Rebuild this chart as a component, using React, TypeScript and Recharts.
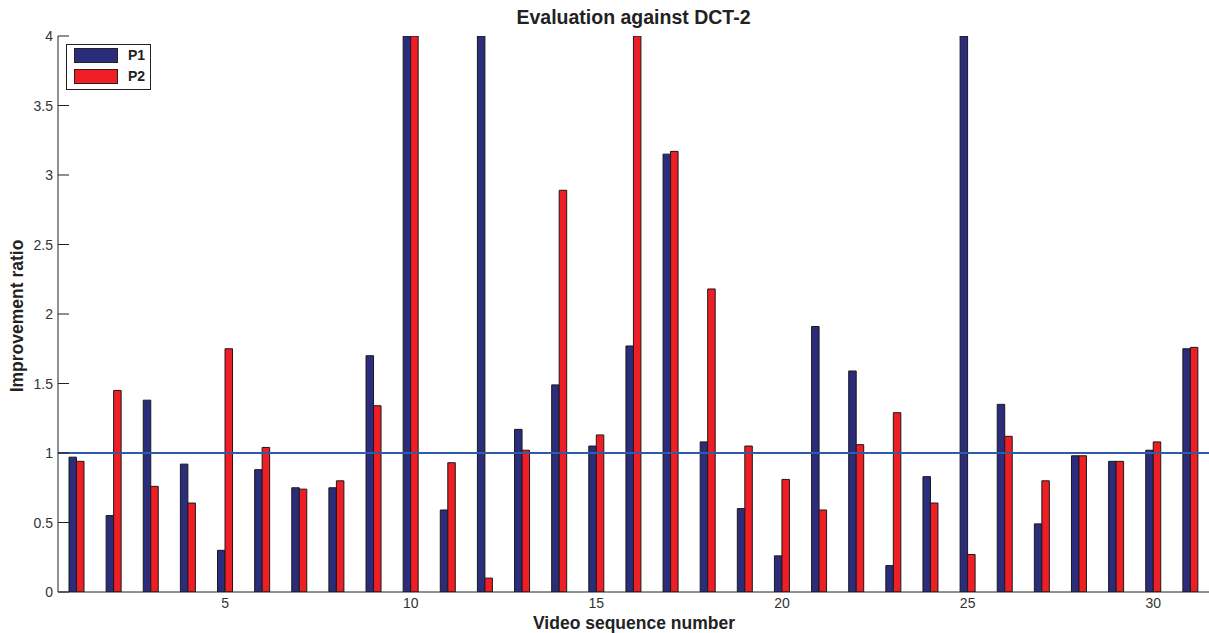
import React from 'react';
import { BarChart, Bar, XAxis, YAxis, ReferenceLine, Label } from 'recharts';

const categories = [1,2,3,4,5,6,7,8,9,10,11,12,13,14,15,16,17,18,19,20,21,22,23,24,25,26,27,28,29,30,31];
const p1Values = [0.97,0.55,1.38,0.92,0.30,0.88,0.75,0.75,1.70,4,0.59,4,1.17,1.49,1.05,1.77,3.15,1.08,0.60,0.26,1.91,1.59,0.19,0.83,4,1.35,0.49,0.98,0.94,1.02,1.75];
const p2Values = [0.94,1.45,0.76,0.64,1.75,1.04,0.74,0.80,1.34,4,0.93,0.10,1.02,2.89,1.13,4,3.17,2.18,1.05,0.81,0.59,1.06,1.29,0.64,0.27,1.12,0.80,0.98,0.94,1.08,1.76];
const yTicks = [0,0.5,1,1.5,2,2.5,3,3.5,4];
const xTickLabels = [5,10,15,20,25,30];
const seriesNames = ['P1', 'P2'];
const referenceValue = 1;

const data = categories.map((c, i) => ({ cat: c, P1: p1Values[i], P2: p2Values[i] }));

const FONT = '"Liberation Sans", Arial, sans-serif';
const BLUE = '#2B2C7C';
const RED = '#EE1E24';
const COLORS = [BLUE, RED];

const YTick = (props: any) => {
  const { x, y, payload } = props;
  return (
    <g>
      <line x1={x + 5} x2={x + 16} y1={y} y2={y} stroke="#222" strokeWidth={1} />
      <text x={x} y={y} textAnchor="end" dominantBaseline="central" fontSize={14} fill="#333" fontFamily={FONT}>
        {String(payload.value)}
      </text>
    </g>
  );
};

const LegendBox = () => (
  <div style={{ position: 'absolute', left: 66, top: 44, width: 85, height: 46, border: '1.5px solid #222', background: '#fff', boxSizing: 'border-box', fontFamily: FONT }}>
    {seriesNames.map((name, i) => (
      <div key={name} style={{ position: 'absolute', left: 7, top: 3 + i * 21 }}>
        <div style={{ position: 'absolute', left: 0, top: 0, width: 44, height: 15, background: COLORS[i], border: '1px solid #222', boxSizing: 'border-box' }} />
        <div style={{ position: 'absolute', left: 54, top: -1, fontSize: 14, fontWeight: 'bold', color: '#222', lineHeight: '17px' }}>{name}</div>
      </div>
    ))}
  </div>
);

export default function App() {
  return (
    <div style={{ position: 'absolute', left: 0, top: 0, width: 1209, height: 633, background: '#fff' }}>
      <BarChart width={1209} height={633} data={data} margin={{ top: 36, right: 0, left: 0, bottom: 0 }} barGap={0} barSize={7.5}>
        <XAxis
          dataKey="cat"
          type="category"
          height={41}
          interval={0}
          tickLine={false}
          tickSize={0}
          tickMargin={6}
          axisLine={{ stroke: '#222', strokeWidth: 1 }}
          tick={{ fontSize: 14, fill: '#333', fontFamily: FONT }}
          tickFormatter={(v: any) => (xTickLabels.includes(Number(v)) ? String(v) : '')}
        >
          <Label
            content={() => (
              <text x={634} y={623} textAnchor="middle" dominantBaseline="central" fontSize={17.5} fontWeight="bold" fill="#222" fontFamily={FONT}>
                Video sequence number
              </text>
            )}
          />
        </XAxis>
        <YAxis
          width={58}
          domain={[0, 4]}
          ticks={yTicks}
          allowDataOverflow
          tickLine={false}
          tickSize={0}
          tickMargin={5}
          axisLine={{ stroke: '#222', strokeWidth: 1 }}
          tick={<YTick />}
        >
          <Label
            content={() => (
              <text x={17} y={316} transform="rotate(-90 17 316)" textAnchor="middle" dominantBaseline="central" fontSize={17.5} fontWeight="bold" fill="#222" fontFamily={FONT}>
                Improvement ratio
              </text>
            )}
          />
        </YAxis>
        <Bar dataKey="P1" name="P1" fill={BLUE} stroke="#1a1a1a" strokeWidth={1} isAnimationActive={false} />
        <Bar dataKey="P2" name="P2" fill={RED} stroke="#1a1a1a" strokeWidth={1} isAnimationActive={false} />
        <ReferenceLine y={referenceValue} stroke="#2F5BA8" strokeWidth={2} />
      </BarChart>
      <div style={{ position: 'absolute', left: 58, width: 1151, top: 5, textAlign: 'center', fontFamily: FONT, fontWeight: 'bold', fontSize: 19.5, color: '#222', lineHeight: '24px' }}>
        Evaluation against DCT-2
      </div>
      <LegendBox />
    </div>
  );
}
